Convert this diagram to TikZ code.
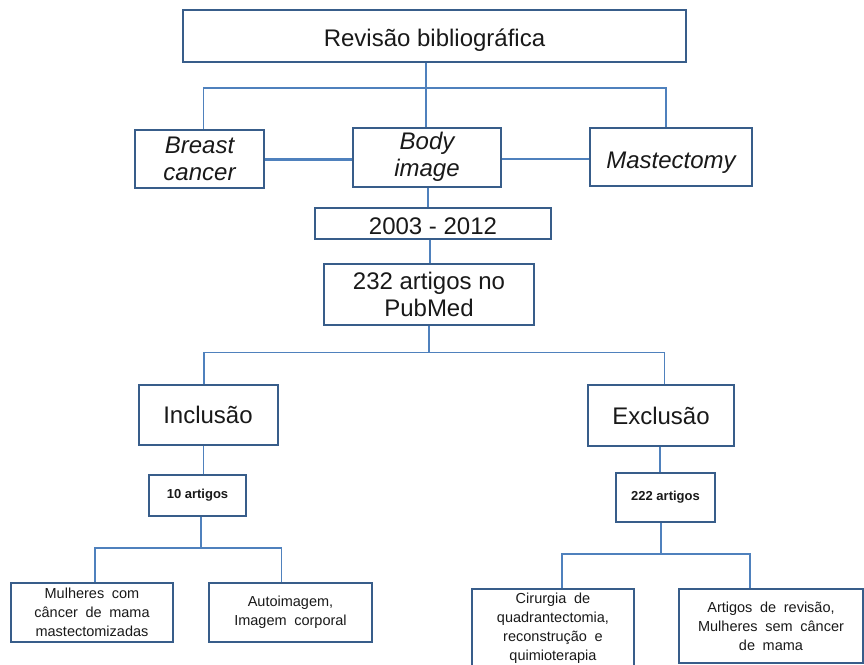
\documentclass[tikz,border=0pt]{standalone}
\usepackage{fontspec}
\setmainfont{Liberation Sans}
\newfontfamily\smallfont[WordSpace=1.9]{Liberation Sans}
\definecolor{boxc}{RGB}{56,93,138}
\definecolor{linec}{RGB}{79,129,189}
\tikzset{
  bx/.style={draw=boxc, line width=2pt, inner sep=0pt, align=center, text=black!90},
  bigbox/.style={bx, font=\fontsize{24}{27}\selectfont},
  bigitbox/.style={bx, font=\fontsize{24}{27}\selectfont\itshape},
  smallbox/.style={bx, font=\smallfont\fontsize{14.5}{19}\selectfont},
  tinybox/.style={bx, font=\fontsize{13}{16}\selectfont\bfseries},
  lowline/.style={text height=24pt, text depth=2pt},
  conn/.style={draw=linec, line width=1.8pt},
}
\begin{document}
\begin{tikzpicture}[x=1pt,y=-1pt]
\useasboundingbox (0,0) rectangle (864,664);
\clip (0,0) rectangle (864,664);
% boxes
\node[bigbox, lowline, minimum width=503pt, minimum height=52pt] (rev) at (434.5,35.5) {Revisão bibliográfica};
\node[bigitbox, minimum width=129pt, minimum height=58pt] (breast) at (199.5,159) {Breast\\cancer};
\node[bigitbox, minimum width=148pt, minimum height=59pt] (body) at (427,157) {Body\\image};
\node[bigitbox, lowline, minimum width=162pt, minimum height=58pt] (mast) at (671,157) {Mastectomy};
\node[bigbox, lowline, minimum width=236pt, minimum height=31pt] (yrs) at (433,223.5) {2003 - 2012};
\node[bigbox, minimum width=210pt, minimum height=61pt] (pub) at (429,294.5) {232 artigos no\\PubMed};
\node[bigbox, minimum width=139pt, minimum height=60pt] (inc) at (208,415) {Inclusão};
\node[bigbox, minimum width=146pt, minimum height=61pt] (exc) at (661,415.5) {Exclusão};
\node[tinybox, minimum width=97pt, minimum height=41pt] (ten) at (197.5,495.5) {10 artigos};
\node[tinybox, minimum width=99pt, minimum height=49pt] (t222) at (665.5,497.5) {222 artigos};
\node[smallbox, minimum width=162pt, minimum height=59pt] (mul) at (92,612.5) {Mulheres com\\câncer de mama\\mastectomizadas};
\node[smallbox, minimum width=163pt, minimum height=59pt] (autoimg) at (290.5,612.5) {Autoimagem,\\Imagem corporal};
\node[smallbox, minimum width=162pt, minimum height=79pt] (cir) at (553,628.5) {Cirurgia de\\quadrantectomia,\\reconstrução e\\quimioterapia};
\node[smallbox, minimum width=184pt, minimum height=74pt] (art) at (771,626) {Artigos de revisão,\\Mulheres sem câncer\\de mama};
% connectors
\coordinate (jt) at (426,88);
\coordinate (hl) at (203.5,88);
\coordinate (hr) at (666,88);
\draw[conn] (jt |- rev.south) -- (jt |- body.north);
\draw[conn] (hl |- breast.north) -- (hl) -- (hr) -- (hr |- mast.north);
\coordinate (mid) at (0,159.3);
\draw[conn, line width=2.6pt] (breast.east |- mid) -- (body.west |- mid);
\draw[conn] (body.east |- mid) -- (mast.west |- mid);
\coordinate (v2) at (428,0);
\draw[conn] (v2 |- body.south) -- (v2 |- yrs.north);
\coordinate (v3) at (430,0);
\draw[conn] (v3 |- yrs.south) -- (v3 |- pub.north);
\coordinate (pj) at (429,352.5);
\coordinate (pl) at (204,352.5);
\coordinate (pr) at (664.5,352.5);
\draw[conn] (pj |- pub.south) -- (pj);
\draw[conn] (pl |- inc.north) -- (pl) -- (pr) -- (pr |- exc.north);
\coordinate (v4) at (203.5,0);
\draw[conn] (v4 |- inc.south) -- (v4 |- ten.north);
\coordinate (tj) at (201,548);
\coordinate (tl) at (95,548);
\coordinate (tr) at (281.5,548);
\draw[conn] (tj |- ten.south) -- (tj);
\draw[conn] (tl |- mul.north) -- (tl) -- (tr) -- (tr |- autoimg.north);
\coordinate (v5) at (660,0);
\draw[conn] (v5 |- exc.south) -- (v5 |- t222.north);
\coordinate (ej) at (661,554);
\coordinate (el) at (562,554);
\coordinate (er) at (750,554);
\draw[conn] (ej |- t222.south) -- (ej);
\draw[conn] (el |- cir.north) -- (el) -- (er) -- (er |- art.north);
\end{tikzpicture}
\end{document}
